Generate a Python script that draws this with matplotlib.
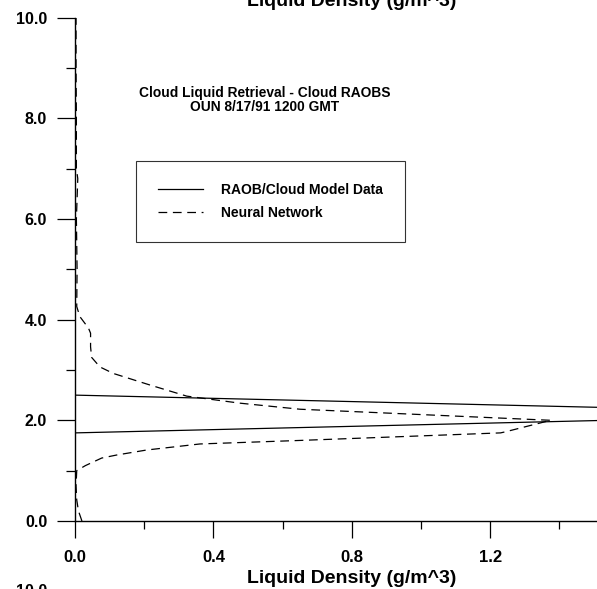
import numpy as np
import matplotlib; matplotlib.use("Agg")
import matplotlib.pyplot as plt

plt.rcParams['font.family'] = ['Liberation Sans', 'DejaVu Sans']
plt.rcParams['font.weight'] = 'bold'

# RAOB / cloud model profile (height km, liquid density g/m^3)
raob_height = [0.0, 1.75, 2.0, 2.25, 2.5, 10.0]
raob_density = [0.0, 0.0, 1.54, 1.56, 0.0, 0.0]

# neural network retrieval
nn_height = [0.0, 0.2, 0.42, 0.7, 1.0, 1.1, 1.25, 1.31, 1.41, 1.53, 1.6, 1.75, 1.77, 2.0,
             2.22, 2.34, 2.48, 2.7, 2.93, 3.06, 3.25, 3.46, 3.73, 3.83, 4.06, 4.26,
             5.0, 6.0, 6.8, 7.0, 8.0, 9.0, 10.0]
nn_density = [0.02, 0.01, 0.005, 0.003, 0.005, 0.03, 0.077, 0.12, 0.207, 0.361, 0.65, 1.23, 1.243, 1.375,
              0.65, 0.477, 0.323, 0.217, 0.111, 0.072, 0.048, 0.045, 0.045, 0.039, 0.014, 0.005,
              0.006, 0.004, 0.008, 0.004, 0.004, 0.003, 0.003]

xticks = [0.0, 0.4, 0.8, 1.2]
xlabels = ["0.0", "0.4", "0.8", "1.2"]
yticks = [0.0, 2.0, 4.0, 6.0, 8.0, 10.0]
ylabels = ["0.0", "2.0", "4.0", "6.0", "8.0", "10.0"]

W, H = 597, 589
fig = plt.figure(figsize=(W/100, H/100), dpi=100)
# axes runs past the right edge of the picture (clipped like the original)
ax = fig.add_axes([75/W, 1-521/H, 553.6/W, 503.5/H])

ax.plot(raob_density, raob_height, color="black", lw=0.9, label="RAOB/Cloud Model Data")
ax.plot(nn_density, nn_height, color="black", lw=0.9, dashes=(7, 4.5), label="Neural Network")

ax.set_xlim(0, 1.6); ax.set_ylim(0, 10)
for s in ["top", "right"]:
    ax.spines[s].set_visible(False)
for s in ["left", "bottom"]:
    ax.spines[s].set_linewidth(1.0)

ax.set_xticks(xticks); ax.set_xticklabels(xlabels)
ax.set_xticks([0.2, 0.6, 1.0, 1.4], minor=True)
ax.set_yticks(yticks); ax.set_yticklabels(ylabels)
ax.set_yticks([1, 3, 5, 7, 9], minor=True)
ax.tick_params(axis="x", which="major", length=12.2, width=0.9, pad=9, labelsize=12)
ax.tick_params(axis="x", which="minor", length=6, width=0.9)
ax.tick_params(axis="y", which="major", length=13, width=0.9, pad=7, labelsize=11.5)
ax.tick_params(axis="y", which="minor", length=6.5, width=0.9)

ax.set_xlabel("Liquid Density (g/m^3)", fontsize=14, fontweight="bold", labelpad=3)
ax.set_title("Liquid Density (g/m^3)", fontsize=14, fontweight="bold", pad=8.6)

fig.text(265/W, 1-93/H, "Cloud Liquid Retrieval - Cloud RAOBS", ha="center", va="center", fontsize=9.9)
fig.text(265/W, 1-107/H, "OUN 8/17/91 1200 GMT", ha="center", va="center", fontsize=9.9)

leg = ax.legend(loc="upper left", bbox_to_anchor=(136/W, 1-161/H), bbox_transform=fig.transFigure,
                borderaxespad=0, fontsize=10, handlelength=3.2, handletextpad=1.3,
                borderpad=1.6, labelspacing=0.6, fancybox=False)
leg.get_frame().set_edgecolor("black"); leg.get_frame().set_linewidth(0.8)

fig.text(47/W, 1-584/H, "10.0", ha="right", va="top", fontsize=11.5)

fig.savefig("out.png", dpi=100)
